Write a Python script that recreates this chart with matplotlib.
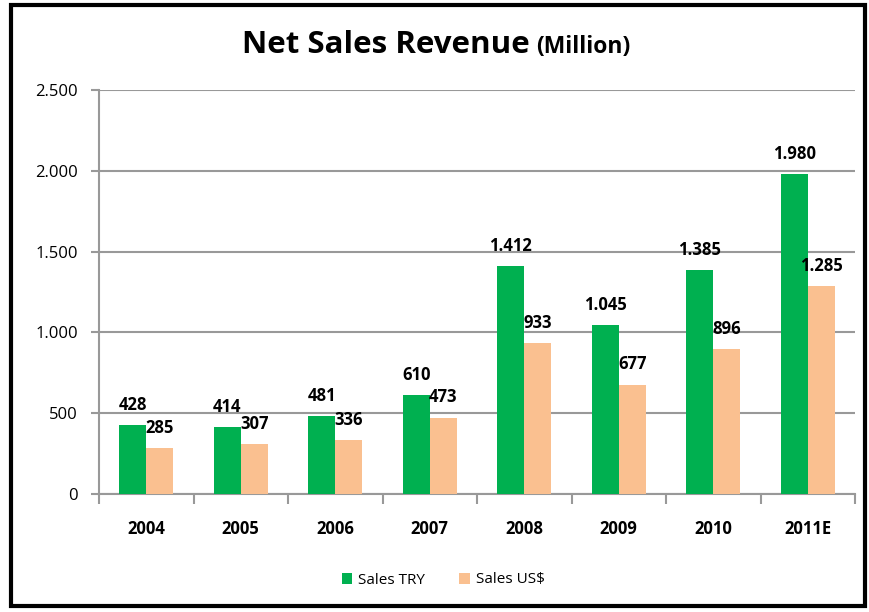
import matplotlib
matplotlib.use("Agg")
import matplotlib.pyplot as plt
import numpy as np
from matplotlib.patches import Rectangle
from matplotlib.ticker import FixedLocator, NullFormatter

categories = ["2004", "2005", "2006", "2007", "2008", "2009", "2010", "2011E"]
sales_try = [428, 414, 481, 610, 1412, 1045, 1385, 1980]
sales_usd = [285, 307, 336, 473, 933, 677, 896, 1285]
y_ticks = [0, 500, 1000, 1500, 2000, 2500]

GREEN = "#00B050"
PEACH = "#FAC090"
FONT = ["Open Sans", "DejaVu Sans"]

def fmt(v):
    return f"{v:,}".replace(",", ".")

fig = plt.figure(figsize=(8.69, 6.12), dpi=100)
fig.patch.set_facecolor("white")

ax = fig.add_axes([99/869, 1-494/612, (855-99)/869, (494-90)/612])
x = np.arange(len(categories))
w = 0.286
b1 = ax.bar(x - w/2, sales_try, w, color=GREEN, label="Sales TRY", zorder=3)
b2 = ax.bar(x + w/2, sales_usd, w, color=PEACH, label="Sales US$", zorder=3)

for bars, vals in ((b1, sales_try), (b2, sales_usd)):
    for r, v in zip(bars, vals):
        ax.annotate(fmt(v), (r.get_x() + r.get_width()/2, v), xytext=(0, 8),
                    textcoords="offset points", ha="center", va="bottom",
                    fontsize=12, fontweight="bold", family=FONT, color="black", zorder=4)

ax.set_xlim(-0.5, len(categories) - 0.5)
ax.set_ylim(0, 2500)
ax.set_yticks(y_ticks)
ax.set_yticklabels([fmt(v) for v in y_ticks], fontsize=12, family=FONT)
ax.set_xticks(x)
ax.set_xticklabels(categories, fontsize=12, fontweight="bold", family=FONT)
ax.tick_params(axis="x", which="major", length=0, pad=19)
ax.xaxis.set_minor_locator(FixedLocator(np.arange(-0.5, len(categories), 1.0)))
ax.xaxis.set_minor_formatter(NullFormatter())
ax.tick_params(axis="x", which="minor", length=7, color="#999999", width=1.5, direction="out")
ax.tick_params(axis="y", length=6, color="#999999", width=1.5, pad=9)
ax.grid(axis="y", color="#999999", linewidth=1.5, zorder=0)
ax.set_axisbelow(True)
for s in ("top", "right"):
    ax.spines[s].set_visible(False)
for s in ("left", "bottom"):
    ax.spines[s].set_color("#999999")
    ax.spines[s].set_linewidth(1.5)

leg = fig.legend(handles=[b1, b2], loc="center", bbox_to_anchor=(443/869, 1-580/612),
                 ncol=2, frameon=False, handlelength=0.7, handleheight=0.7,
                 columnspacing=2.2, handletextpad=0.4, prop={"family": FONT, "size": 11})

fig.text(530/869, 1-45/612, "Net Sales Revenue", ha="right", va="center",
         fontsize=22.5, fontweight="bold", family=FONT)
fig.text(536/869, 1-47/612, "(Million)", ha="left", va="center",
         fontsize=16.5, fontweight="bold", family=FONT)

fig.patches.append(Rectangle((11/869, 1-606/612), (865-11)/869, (606-5)/612,
                             transform=fig.transFigure, fill=False, edgecolor="black",
                             linewidth=3, zorder=10))

fig.savefig("out.png", dpi=100)
